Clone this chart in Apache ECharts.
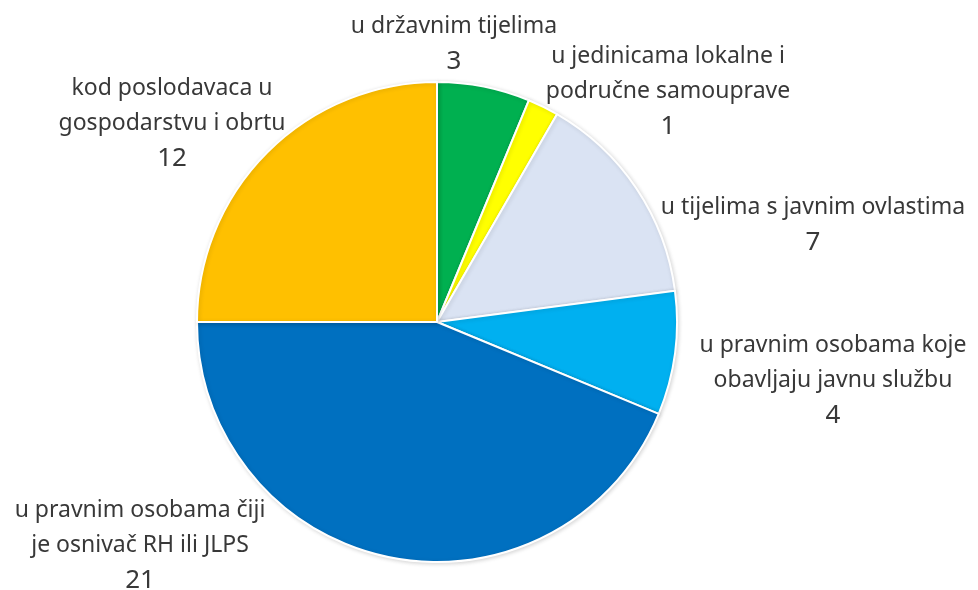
<!DOCTYPE html>
<html lang="hr">
<head>
  <meta charset="UTF-8" />
  <title>Pie</title>
  <style>
    body { margin: 0; background: #fff }
    #chart { width: 978px; height: 590px }
  </style>
  <script src="https://cdn.jsdelivr.net/npm/echarts@6/dist/echarts.min.js"></script>
</head>
<body>
  <div id="chart"></div>
  <script>
    // podaci
    const names = [
      'u državnim tijelima',
      'u jedinicama lokalne i\npodručne samouprave',
      'u tijelima s javnim ovlastima',
      'u pravnim osobama koje\nobavljaju javnu službu',
      'u pravnim osobama čiji\nje osnivač RH ili JLPS',
      'kod poslodavaca u\ngospodarstvu i obrtu'
    ];
    const values = [3, 1, 7, 4, 21, 12];
    const colors = ['#00B050', '#FFFF00', '#DAE3F3', '#00B0F0', '#0070C0', '#FFC000'];

    // položaj oznaka (središte bloka teksta)
    const labelPos = [[454, 44], [668, 92], [813, 225], [833, 381], [140, 546], [172, 124]];

    const chart = echarts.init(document.getElementById('chart'));
    chart.setOption({
      backgroundColor: '#ffffff',
      animation: false,
      series: [{
        type: 'pie',
        center: [437, 322],
        radius: 240,
        startAngle: 90,
        clockwise: true,
        data: names.map((n, i) => ({
          name: n, value: values[i], itemStyle: { color: colors[i] }
        })),
        itemStyle: {
          borderColor: '#ffffff', borderWidth: 2,
          shadowBlur: 4, shadowColor: 'rgba(0,0,0,0.15)', shadowOffsetX: 1, shadowOffsetY: 1
        },
        label: {
          show: true,
          position: 'outside',
          align: 'center',
          overflow: 'none',
          formatter: p => p.name.split('\n').map(s => '{n|' + s + '}').join('\n') + '\n{v|' + p.value + '}',
          rich: {
            n: { fontFamily: 'Noto Sans', fontSize: 23, color: '#383838', lineHeight: 35, align: 'center' },
            v: { fontFamily: 'Noto Sans', fontSize: 26, color: '#383838', lineHeight: 36, align: 'center' }
          }
        },
        labelLine: { show: false },
        labelLayout: p => ({
          x: labelPos[p.dataIndex][0],
          y: labelPos[p.dataIndex][1],
          align: 'center',
          verticalAlign: 'middle'
        }),
        emphasis: { disabled: true }
      }]
    });
  </script>
</body>
</html>
